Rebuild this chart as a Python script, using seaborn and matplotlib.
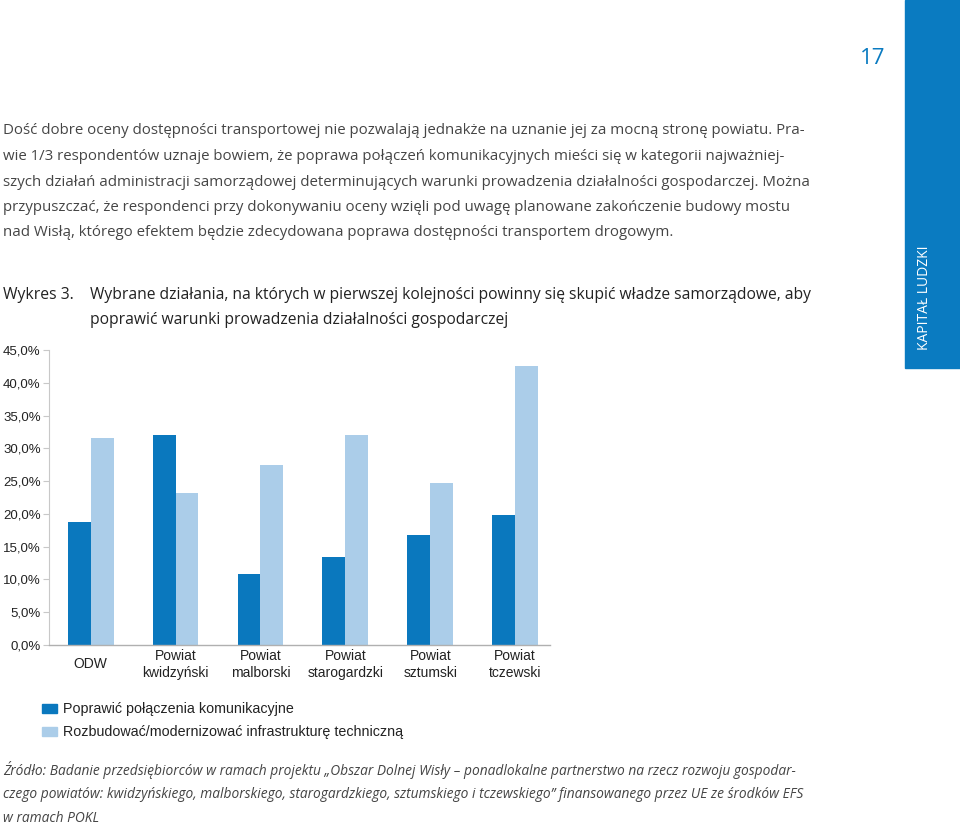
import matplotlib
matplotlib.use("Agg")
import matplotlib.pyplot as plt
import seaborn as sns
import pandas as pd
from matplotlib.patches import Rectangle

# dane
CATEGORIES = ["ODW", "Powiat\nkwidzyński", "Powiat\nmalborski",
              "Powiat\nstarogardzki", "Powiat\nsztumski", "Powiat\ntczewski"]
SERIES = ["Poprawić połączenia komunikacyjne",
          "Rozbudować/modernizować infrastrukturę techniczną"]
POLACZENIA = [18.8, 32.0, 10.8, 13.5, 16.8, 19.8]
INFRASTRUKTURA = [31.6, 23.2, 27.4, 32.0, 24.7, 42.6]
YTICKS = [0, 5, 10, 15, 20, 25, 30, 35, 40, 45]

PARAGRAPH = [
    "Dość dobre oceny dostępności transportowej nie pozwalają jednakże na uznanie jej za mocną stronę powiatu. Pra-",
    "wie 1/3 respondentów uznaje bowiem, że poprawa połączeń komunikacyjnych mieści się w kategorii najważniej-",
    "szych działań administracji samorządowej determinujących warunki prowadzenia działalności gospodarczej. Można",
    "przypuszczać, że respondenci przy dokonywaniu oceny wzięli pod uwagę planowane zakończenie budowy mostu",
    "nad Wisłą, którego efektem będzie zdecydowana poprawa dostępności transportem drogowym.",
]
SOURCE = [
    "Źródło: Badanie przedsiębiorców w ramach projektu „Obszar Dolnej Wisły – ponadlokalne partnerstwo na rzecz rozwoju gospodar-",
    "czego powiatów: kwidzyńskiego, malborskiego, starogardzkiego, sztumskiego i tczewskiego” finansowanego przez UE ze środków EFS",
    "w ramach POKL",
]

DARK = "#0a78be"
LIGHT = "#abcde9"

df = pd.DataFrame({
    "kat": CATEGORIES * 2,
    "seria": [SERIES[0]] * 6 + [SERIES[1]] * 6,
    "wartosc": POLACZENIA + INFRASTRUKTURA,
})

sns.set_style("white")
plt.rcParams['font.family'] = ['DejaVu Sans']

W, H = 960, 825
fig = plt.figure(figsize=(W / 100, H / 100), dpi=100)

def fy(py):
    return 1 - py / H

ax = fig.add_axes([49 / W, fy(645), (550 - 49) / W, (645 - 350) / H])
sns.barplot(data=df, x="kat", y="wartosc", hue="seria",
            palette=[DARK, LIGHT], width=0.54, gap=0, saturation=1,
            ax=ax, legend=False, linewidth=0)
ax.set_ylim(0, 45)
ax.set_xlim(-0.49, 5.41)
ax.set_yticks(YTICKS)
ax.set_yticklabels([f"{v},0%" for v in YTICKS], family="Liberation Sans",
                   fontsize=9.5, color="#222222")
ax.set_xlabel("")
ax.set_ylabel("")
for s in ["top", "right"]:
    ax.spines[s].set_visible(False)
ax.spines["left"].set_color("#c8c8c8")
ax.spines["bottom"].set_color("#b0b0b0")
ax.spines["left"].set_linewidth(0.8)
ax.spines["bottom"].set_linewidth(1.0)
ax.tick_params(axis="y", length=4, color="#c8c8c8", pad=2, left=True)
ax.tick_params(axis="x", length=0, pad=14)
for lab in ax.get_xticklabels():
    lab.set_va("center")
    lab.set_family("Liberation Sans")
    lab.set_fontsize(10)
    lab.set_color("#222222")

# legenda
for i, (name, col) in enumerate(zip(SERIES, [DARK, LIGHT])):
    y0 = 713 + i * 23
    fig.patches.append(Rectangle((42 / W, fy(y0)), 15 / W, 9 / H,
                                 transform=fig.transFigure, color=col))
    fig.text(63 / W, fy(y0 - 4), name, family="Liberation Sans", fontsize=10.3,
             color="#222222", va="center")

# tytuł wykresu
fig.text(3 / W, fy(295), "Wykres 3.", family="Open Sans", fontsize=11.3,
         color="#222222", va="center")
fig.text(90 / W, fy(295),
         "Wybrane działania, na których w pierwszej kolejności powinny się skupić władze samorządowe, aby",
         family="Open Sans", fontsize=11.25, color="#222222", va="center")
fig.text(90 / W, fy(320), "poprawić warunki prowadzenia działalności gospodarczej",
         family="Open Sans", fontsize=11.25, color="#222222", va="center")

# akapit
for i, line in enumerate(PARAGRAPH):
    fig.text(3 / W, fy(131 + i * 25.5), line, family="Open Sans", fontsize=10.85,
             color="#454545", va="center")

# źródło
for i, line in enumerate(SOURCE):
    fig.text(3 / W, fy(770 + i * 24), line, family="Open Sans", fontsize=9.95,
             style="italic", color="#444444", va="center")

# pasek boczny
fig.patches.append(Rectangle((905 / W, fy(368)), 55 / W, 368 / H,
                             transform=fig.transFigure, color="#0a7bc1"))
fig.text(925 / W, fy(298), "KAPITAŁ LUDZKI", family="Open Sans", fontsize=10,
         color="white", rotation=90, ha="center", va="center")
fig.text(873 / W, fy(58), "17", family="Open Sans", fontsize=16,
         color="#0a7bc1", ha="center", va="center")

fig.savefig("out.png", dpi=100)
